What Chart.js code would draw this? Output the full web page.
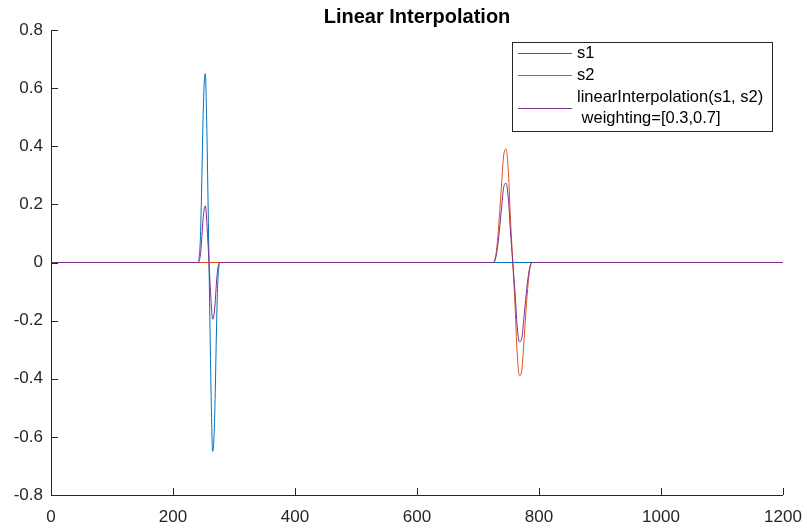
<!DOCTYPE html>
<html>
<head>
<meta charset="utf-8">
<script src="https://cdn.jsdelivr.net/npm/chart.js@4/dist/chart.umd.min.js"></script>
<style>
  html, body { margin: 0; padding: 0; background: #fff; }
  .container { width: 807px; height: 531px; position: relative; }
</style>
</head>
<body>
<div class="container"><canvas id="myChart"></canvas></div>
<script>
// values
const s1X = [0, 241, 243, 245, 247, 249, 251, 253, 255, 257, 259, 261, 263, 265, 267, 269, 271, 273, 275, 277, 1200];
const s1Y = [0, 0, 0.02, 0.09, 0.26, 0.47, 0.61, 0.65, 0.51, 0.27, 0, -0.27, -0.51, -0.65, -0.61, -0.47, -0.26, -0.09, -0.02, 0, 0];

const s2X = [0, 724, 728, 731, 735, 739, 742, 746, 750, 753, 757, 761, 764, 768, 772, 775, 779, 783, 786, 790, 1200];
const s2Y = [0, 0, 0.012, 0.055, 0.156, 0.281, 0.367, 0.39, 0.304, 0.16, 0, -0.16, -0.304, -0.39, -0.367, -0.281, -0.156, -0.055, -0.012, 0, 0];

const mixX = [0, 241, 243, 245, 247, 249, 251, 253, 255, 257, 259, 261, 263, 265, 267, 269, 271, 273, 275, 277,
  724, 728, 731, 735, 739, 742, 746, 750, 753, 757, 761, 764, 768, 772, 775, 779, 783, 786, 790, 1200];
const mixY = [0, 0, 0.006, 0.027, 0.078, 0.141, 0.183, 0.195, 0.153, 0.081, 0, -0.081, -0.153, -0.195, -0.183, -0.141, -0.078, -0.027, -0.006, 0,
  0, 0.008, 0.038, 0.109, 0.197, 0.257, 0.273, 0.213, 0.112, 0, -0.112, -0.213, -0.273, -0.257, -0.197, -0.109, -0.038, -0.008, 0, 0];

const xTicks = [0, 200, 400, 600, 800, 1000, 1200];
const yTicks = [-0.8, -0.6, -0.4, -0.2, 0, 0.2, 0.4, 0.6, 0.8];

const labels = ["s1", "s2", ["linearInterpolation(s1, s2)", " weighting=[0.3,0.7]"]];
const colors = ["#0072BD", "#D95319", "#7E2F8E"];

const axisColor = "#262626";
const fontFamily = "'Liberation Sans', Arial, sans-serif";

const toPoints = (xs, ys) => xs.map((x, i) => ({ x: x, y: ys[i] }));

// MATLAB style axes: inward ticks, no grid
const matlabAxes = {
  id: "matlabAxes",
  afterDraw(chart) {
    const ctx = chart.ctx;
    const a = chart.chartArea;
    const sx = chart.scales.x, sy = chart.scales.y;
    ctx.save();
    ctx.strokeStyle = axisColor;
    ctx.lineWidth = 1;
    ctx.beginPath();
    ctx.moveTo(a.left + 0.5, a.top);
    ctx.lineTo(a.left + 0.5, a.bottom + 0.5);
    ctx.lineTo(a.right, a.bottom + 0.5);
    xTicks.forEach((t) => {
      const px = Math.round(sx.getPixelForValue(t)) + 0.5;
      ctx.moveTo(px, a.bottom);
      ctx.lineTo(px, a.bottom - 7);
    });
    yTicks.forEach((t) => {
      const py = Math.round(sy.getPixelForValue(t)) + 0.5;
      ctx.moveTo(a.left, py);
      ctx.lineTo(a.left + 7, py);
    });
    ctx.stroke();

    // title
    ctx.fillStyle = "#000";
    ctx.font = "bold 20px " + fontFamily;
    ctx.textAlign = "center";
    ctx.textBaseline = "middle";
    ctx.fillText("Linear Interpolation", (a.left + a.right) / 2, 17);

    // legend box
    const bx = 512.5, by = 42.5, bw = 260, bh = 89;
    ctx.fillStyle = "#fff";
    ctx.fillRect(bx, by, bw, bh);
    ctx.strokeStyle = axisColor;
    ctx.strokeRect(bx, by, bw, bh);
    ctx.font = "16.5px " + fontFamily;
    ctx.textAlign = "left";
    const rows = [53, 75, 108];
    chart.data.datasets.forEach((ds, i) => {
      const y = rows[i];
      ctx.strokeStyle = ds.borderColor;
      ctx.beginPath();
      ctx.moveTo(518, y + 0.5);
      ctx.lineTo(572, y + 0.5);
      ctx.stroke();
      ctx.fillStyle = "#000";
      const lines = Array.isArray(ds.label) ? ds.label : [ds.label];
      lines.forEach((ln, j) => {
        const ty = y + (j - (lines.length - 1) / 2) * 21;
        ctx.fillText(ln, 577, ty);
      });
    });
    ctx.restore();
  },
};

new Chart(document.getElementById("myChart"), {
  type: "line",
  data: {
    datasets: [
      { label: labels[0], data: toPoints(s1X, s1Y), borderColor: colors[0], order: 2 },
      { label: labels[1], data: toPoints(s2X, s2Y), borderColor: colors[1], order: 1 },
      { label: labels[2], data: toPoints(mixX, mixY), borderColor: colors[2], order: 0 },
    ],
  },
  options: {
    responsive: true,
    maintainAspectRatio: false,
    animation: false,
    layout: { padding: { left: 0, right: 24, top: 30, bottom: 0 } },
    elements: {
      line: { borderWidth: 1, cubicInterpolationMode: "monotone", fill: false },
      point: { radius: 0, hoverRadius: 0 },
    },
    plugins: {
      legend: { display: false },
      title: { display: false },
      tooltip: { enabled: false },
    },
    scales: {
      x: {
        type: "linear",
        min: 0,
        max: 1200,
        afterFit: (scale) => {
          scale.height = 36;
          scale.paddingLeft = 0;
          scale.paddingRight = 0;
        },
        afterBuildTicks: (scale) => { scale.ticks = xTicks.map((v) => ({ value: v })); },
        grid: { display: false, drawTicks: false },
        border: { display: false },
        ticks: {
          color: axisColor,
          padding: 12,
          maxRotation: 0,
          font: { family: fontFamily, size: 17 },
          callback: (v) => String(v),
        },
      },
      y: {
        min: -0.8,
        max: 0.8,
        afterFit: (scale) => {
          scale.width = 51;
          scale.paddingTop = 0;
          scale.paddingBottom = 0;
        },
        afterBuildTicks: (scale) => { scale.ticks = yTicks.map((v) => ({ value: v })); },
        grid: { display: false, drawTicks: false },
        border: { display: false },
        ticks: {
          color: axisColor,
          padding: 8,
          font: { family: fontFamily, size: 17 },
          callback: (v) => String(Number(v.toFixed(1))),
        },
      },
    },
  },
  plugins: [matlabAxes],
});
</script>
</body>
</html>
